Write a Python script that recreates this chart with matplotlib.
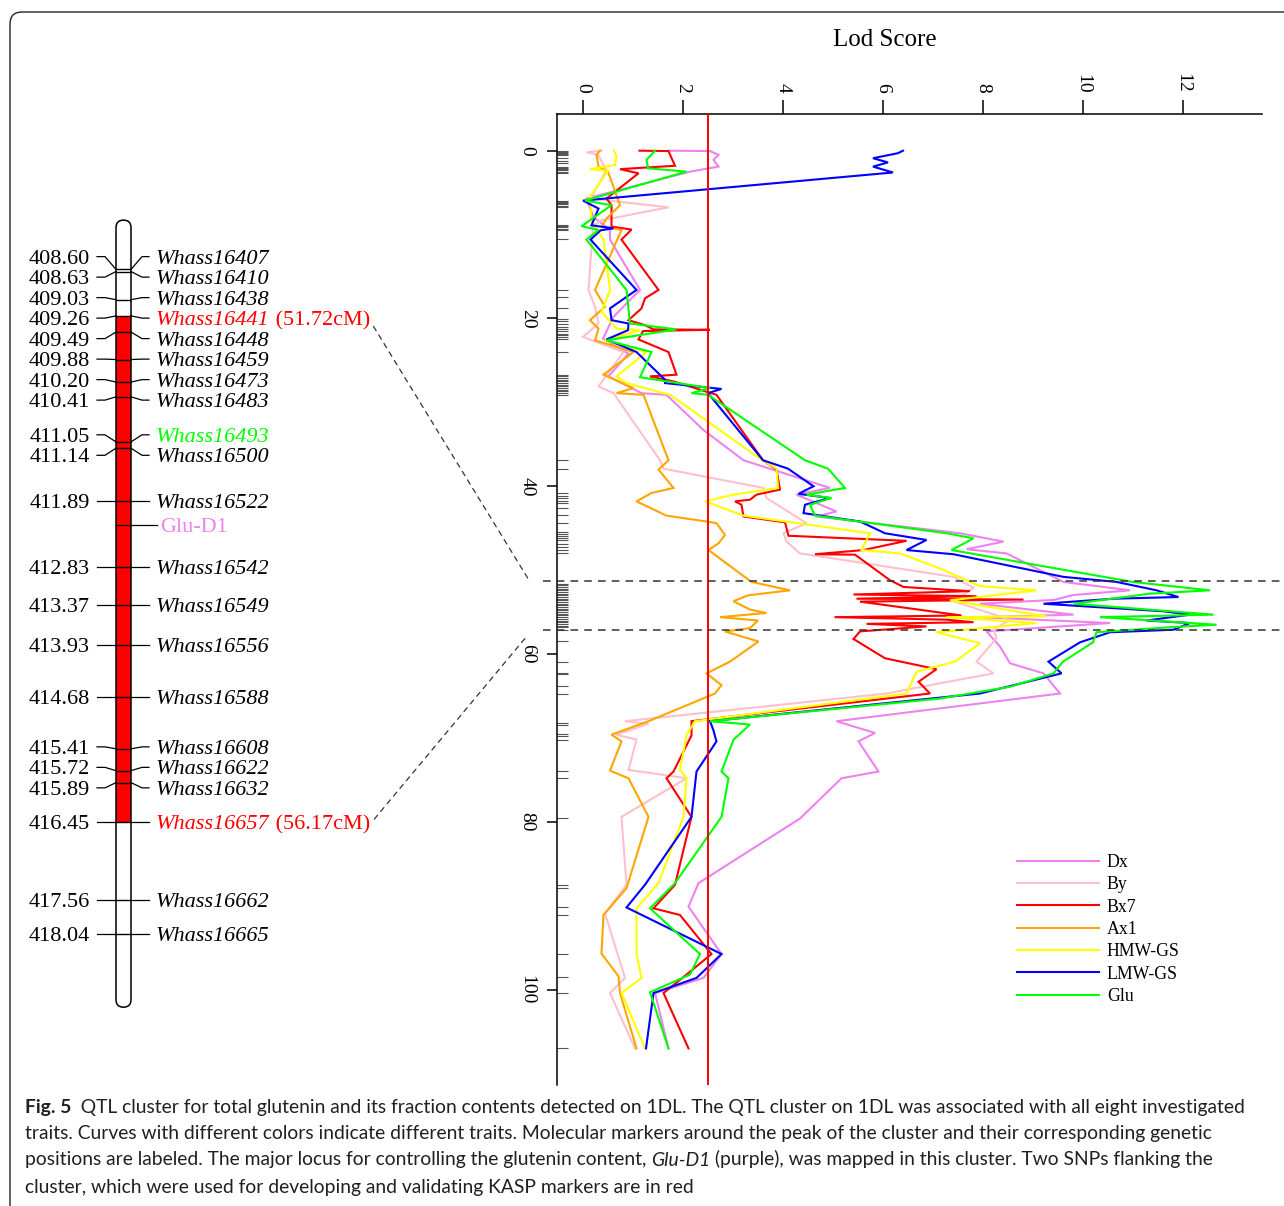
import matplotlib
matplotlib.use("Agg")
import matplotlib.pyplot as plt
from matplotlib.patches import FancyBboxPatch, Rectangle

plt.rcParams['font.family'] = ['Liberation Serif', 'DejaVu Serif']

# ---- LOD curves (position in cM, LOD score) ----
dx_cm = [0.0, 0.05, 0.5, 1.1, 1.9, 2.5, 5.7, 7.9, 9.45, 10.6, 16.6, 18.4, 19.8, 22.4, 24.2, 26.9, 28.9, 29.1,
         33.3, 36.9, 40.2, 41.0, 43.0, 43.6, 45.6, 46.6, 47.5, 48.0, 51.4, 52.4, 52.96, 53.55, 54.0, 55.3, 55.6,
         56.3, 57.3, 59.1, 61.1, 62.3, 64.7, 68.0, 69.4, 70.4, 74.0, 74.8, 79.6, 87.3, 90.1, 95.75, 98.6, 100.4, 107.0]
dx_lod = [1.71, 2.54, 2.71, 2.61, 2.71, 2.14, 0.07, 0.21, 0.54, 0.54, 1.14, 0.84, 0.61, 0.4, 0.91, 0.51, 1.17, 1.67,
          2.41, 3.21, 4.94, 4.27, 5.07, 4.67, 7.54, 8.41, 7.67, 8.47, 9.61, 10.94, 9.81, 9.41, 7.94, 9.81, 7.94,
          10.54, 8.07, 8.34, 8.54, 9.21, 9.54, 5.07, 5.84, 5.51, 5.91, 5.17, 4.34, 2.31, 2.11, 2.77, 2.41, 1.44, 1.71]

by_cm = [0.0, 0.2, 0.5, 2.3, 5.7, 6.75, 8.3, 9.0, 16.6, 18.6, 20.6, 22.2, 24.0, 28.1, 28.9, 36.9, 37.9, 40.2,
         41.4, 44.4, 45.6, 46.6, 48.0, 50.8, 52.1, 53.7, 55.9, 57.1, 58.1, 60.9, 62.3, 63.3, 64.7, 68.0, 68.3,
         69.6, 70.2, 73.8, 74.8, 79.4, 87.5, 90.9, 98.6, 100.4, 107.0]
by_lod = [0.37, 0.07, 0.3, 0.47, 0.15, 1.71, 0.37, 0.2, 0.11, 0.24, 0.31, 0.0, 0.81, 0.31, 0.61, 1.54, 1.61, 3.61,
          3.67, 4.47, 4.01, 4.07, 4.34, 7.41, 7.81, 7.41, 8.54, 8.21, 8.27, 7.87, 8.21, 7.3, 6.07, 0.84, 1.31,
          0.67, 1.07, 0.91, 2.07, 0.77, 0.87, 0.44, 0.84, 0.54, 1.04]

bx7_cm = [0.0, 0.05, 0.6, 1.8, 2.2, 2.7, 5.7, 6.5, 9.05, 9.4, 10.6, 16.6, 17.6, 18.8, 20.2, 20.8, 21.3, 21.35,
          21.5, 22.5, 24.0, 26.7, 26.9, 27.5, 29.1, 36.9, 38.0, 40.4, 41.0, 41.6, 41.8, 42.2, 43.6, 44.3, 45.9,
          46.5, 47.6, 48.1, 48.15, 51.2, 52.0, 52.5, 52.9, 53.1, 53.4, 53.5, 53.75, 54.5, 55.4, 55.6, 55.9, 56.2,
          56.4, 56.7, 57.3, 58.2, 60.5, 61.8, 63.3, 64.7, 68.0, 69.7, 74.0, 74.8, 79.4, 87.5, 90.3, 91.1, 95.75,
          98.2, 100.4, 107.0]
bx7_lod = [1.13, 1.71, 1.75, 1.84, 0.74, 1.11, 0.47, 0.57, 0.57, 0.97, 0.77, 1.51, 1.24, 1.17, 0.91, 1.24, 1.41, 2.54,
           1.2, 1.11, 1.71, 1.87, 1.34, 1.81, 2.67, 3.6, 3.87, 3.94, 3.47, 3.34, 3.04, 3.17, 3.21, 4.04, 4.11,
           6.47, 5.61, 4.64, 5.44, 6.14, 6.41, 7.74, 5.41, 7.87, 5.47, 8.81, 5.54, 6.47, 7.57, 5.03, 7.27, 7.81,
           5.67, 6.87, 5.54, 5.41, 6.04, 7.07, 6.71, 6.94, 2.17, 2.17, 1.81, 1.67, 2.17, 1.84, 1.41, 1.94, 2.57,
           2.07, 1.61, 2.11]

ax1_cm = [0.0, 0.5, 1.9, 2.5, 6.5, 8.1, 9.05, 9.45, 16.6, 18.6, 20.2, 21.2, 22.6, 24.0, 26.7, 28.3, 28.9, 29.1,
          36.9, 38.0, 40.2, 40.8, 41.8, 43.5, 44.2, 44.4, 45.8, 46.8, 47.6, 51.4, 52.4, 53.0, 53.7, 54.7, 55.1,
          55.6, 56.0, 56.9, 57.3, 58.5, 60.9, 62.3, 63.7, 64.7, 68.0, 69.6, 70.4, 73.9, 74.8, 79.4, 87.9, 91.1,
          95.7, 98.4, 100.4, 107.0]
ax1_lod = [0.34, 0.27, 0.31, 0.5, 0.74, 0.47, 0.37, 0.77, 0.24, 0.44, 0.14, 0.31, 0.24, 1.01, 0.41, 1.01, 0.67, 1.21,
           1.71, 1.51, 1.81, 1.37, 1.07, 1.67, 2.47, 2.67, 2.84, 2.71, 2.51, 3.37, 4.14, 3.3, 3.01, 3.34, 3.67,
           2.74, 3.5, 3.34, 2.84, 3.51, 2.94, 2.47, 2.77, 2.64, 1.31, 0.57, 0.77, 0.54, 0.91, 1.31, 0.87, 0.41,
           0.37, 0.71, 0.74, 1.07]

hmw_cm = [0.0, 0.7, 1.7, 2.2, 2.4, 5.5, 8.3, 10.6, 16.6, 19.2, 21.2, 21.4, 22.6, 24.0, 26.9, 27.7, 28.9, 29.1,
          36.7, 37.9, 40.2, 41.0, 41.8, 43.5, 45.6, 47.6, 48.0, 49.8, 51.9, 52.4, 53.6, 55.5, 55.6, 56.3, 57.4,
          58.7, 60.9, 62.1, 64.7, 68.0, 69.7, 73.8, 74.8, 79.4, 87.3, 90.3, 95.7, 98.6, 100.4, 107.0]
hmw_lod = [0.62, 0.67, 0.64, 0.14, 0.5, 0.14, 0.17, 0.41, 0.54, 0.37, 0.67, 1.14, 0.44, 1.27, 0.67, 0.87, 1.61, 1.74,
           3.54, 3.87, 3.9, 3.01, 2.44, 3.21, 5.74, 5.57, 6.34, 7.14, 7.94, 9.07, 7.34, 9.27, 7.27, 9.07, 7.07,
           7.94, 7.44, 6.67, 6.47, 2.24, 2.07, 1.94, 2.07, 2.01, 1.51, 1.07, 1.07, 1.17, 0.77, 1.24]

lmw_cm = [0.0, 0.3, 0.9, 1.4, 1.9, 2.6, 5.95, 6.9, 8.9, 9.25, 9.5, 10.6, 16.6, 18.8, 20.2, 20.6, 21.4, 22.5,
          24.0, 27.3, 27.7, 28.4, 28.9, 36.9, 37.9, 40.0, 40.9, 41.4, 42.2, 43.2, 44.2, 45.6, 46.4, 47.6, 48.1,
          50.8, 51.4, 52.4, 53.2, 53.4, 54.0, 54.9, 55.3, 56.0, 56.3, 57.1, 57.4, 58.6, 60.9, 62.3, 64.7, 68.0,
          69.1, 69.8, 70.4, 74.0, 79.4, 87.5, 90.2, 95.75, 98.6, 100.4, 107.0]
lmw_lod = [6.4, 6.3, 5.8, 6.1, 5.8, 6.2, 0.0, 0.31, 0.17, 0.61, 0.35, 0.15, 1.07, 0.54, 0.57, 0.91, 0.9, 0.47,
           1.07, 1.64, 1.64, 2.77, 2.5, 3.6, 4.1, 4.61, 4.31, 4.94, 4.44, 4.41, 5.54, 6.04, 6.87, 6.47, 7.41,
           9.61, 10.67, 11.47, 11.91, 10.61, 9.21, 11.61, 12.14, 11.27, 12.14, 11.81, 10.54, 9.94, 9.31, 9.57, 7.94, 2.54,
           2.61, 2.64, 2.67, 2.27, 2.17, 1.24, 0.87, 2.77, 2.27, 1.41, 1.26]

glu_cm = [0.0, 1.1, 2.1, 2.5, 5.95, 6.5, 9.0, 9.45, 10.6, 16.6, 20.6, 21.3, 22.6, 24.0, 27.0, 28.3, 28.9, 29.1,
          36.9, 37.9, 40.2, 41.0, 41.4, 42.2, 43.5, 45.6, 46.2, 47.6, 51.4, 52.4, 52.8, 54.0, 55.3, 55.6, 56.5,
          56.8, 57.4, 58.6, 60.9, 62.3, 63.9, 65.3, 68.0, 68.4, 70.2, 74.0, 74.8, 79.4, 87.3, 90.3, 95.75, 98.2,
          100.3, 107.0]
glu_lod = [1.44, 1.27, 1.3, 2.07, 0.04, 0.57, -0.03, 0.31, 0.07, 0.87, 0.94, 1.87, 0.47, 1.37, 1.14, 2.54, 2.17, 2.5,
           4.44, 4.9, 5.24, 4.47, 4.97, 4.54, 4.64, 7.27, 7.81, 7.37, 10.99, 12.54, 11.34, 9.81, 12.61, 10.34, 12.67,
           11.74, 10.27, 10.2, 9.6, 9.41, 8.54, 7.14, 2.54, 3.34, 3.01, 2.77, 2.91, 2.77, 1.84, 1.34, 2.34, 2.14,
           1.34, 1.71]

traits = ['Dx', 'By', 'Bx7', 'Ax1', 'HMW-GS', 'LMW-GS', 'Glu']
trait_colors = ['#EE82EE', '#FFC0CB', '#FF0000', '#FFA500', '#FFFF00', '#0000FF', '#00FF00']

# marker positions on the linkage map (cM)
rug_cm = [0.0, 0.15, 0.3, 0.45, 0.55, 0.9, 1.2, 1.5, 1.9, 2.05, 2.2, 2.35, 2.5, 2.7, 5.95, 6.1, 6.25, 6.4, 6.55,
          6.75, 8.85, 9.0, 9.15, 9.3, 9.45, 10.5, 16.6, 17.5, 18.8, 20.1, 20.3, 20.7, 21.0, 21.3, 21.5, 21.8, 22.0,
          22.2, 22.4, 24.0, 26.7, 26.9, 27.1, 27.3, 27.5, 27.7, 27.9, 28.1, 28.3, 28.5, 28.7, 28.9, 29.1, 36.9, 37.9,
          40.8, 41.2, 41.4, 41.7, 42.0, 42.6, 43.4, 44.4, 45.5, 45.7, 45.9, 46.2, 46.4, 46.9, 47.2, 47.6, 48.0,
          51.6, 51.8, 52.0, 52.2, 52.4, 52.6, 52.8, 53.0, 53.2, 53.4, 53.6, 53.8, 54.0, 54.2, 54.4, 54.6, 54.8,
          55.0, 55.2, 55.4, 55.6, 55.8, 56.0, 56.2, 56.4, 56.6, 56.8, 57.1, 58.5, 60.9, 62.2, 62.4, 63.8, 64.7,
          68.2, 68.4, 69.5, 69.8, 70.2, 73.9, 74.8, 79.5, 87.5, 87.9, 90.2, 91.1, 95.75, 98.5, 100.4, 107.0]

lod_threshold = 2.5
cluster_cm = [51.3, 57.1]

# ---- physical map of the 1DL region (Mb) ----
marker_mb = [408.60, 408.63, 409.03, 409.26, 409.49, 409.88, 410.20, 410.41, 411.05, 411.14, 411.89,
             412.83, 413.37, 413.93, 414.68, 415.41, 415.72, 415.89, 416.45, 417.56, 418.04]
marker_names = ['Whass16407', 'Whass16410', 'Whass16438', 'Whass16441', 'Whass16448', 'Whass16459',
                'Whass16473', 'Whass16483', 'Whass16493', 'Whass16500', 'Whass16522', 'Whass16542',
                'Whass16549', 'Whass16556', 'Whass16588', 'Whass16608', 'Whass16622', 'Whass16632',
                'Whass16657', 'Whass16662', 'Whass16665']
flank_cm = {'Whass16441': '(51.72cM)', 'Whass16657': '(56.17cM)'}
green_marker = 'Whass16493'
glu_d1_mb = 412.23
chrom_start, chrom_end = 407.90, 419.08
qtl_start, qtl_end = 409.26, 416.45


def spread_labels(pos, gap):
    # push overlapping labels apart, keeping each group centred on its markers
    groups = [[p] for p in sorted(pos)]
    while True:
        spans = []
        for g in groups:
            c = sum(g) / len(g)
            s = c - gap * (len(g) - 1) / 2
            spans.append((s, s + gap * (len(g) - 1)))
        merged = False
        for i in range(len(groups) - 1):
            if spans[i][1] + gap > spans[i + 1][0]:
                groups[i] = groups[i] + groups.pop(i + 1)
                merged = True
                break
        if not merged:
            break
    out = []
    for g, (s, e) in zip(groups, spans):
        out += [s + gap * k for k in range(len(g))]
    return out


W, H = 1284, 1206
fig = plt.figure(figsize=(W / 100, H / 100), dpi=100)


def fx(px):
    return px / W


def fy(py):
    return 1 - py / H


# outer rounded frame
frame = FancyBboxPatch((0.10, -0.5), 13.5, 12.44, boxstyle='round,pad=0,rounding_size=0.12',
                       transform=fig.dpi_scale_trans, fc='none', ec='#222222', lw=1.0)
fig.patches.append(frame)

# ---- LOD profile ----
ax = fig.add_axes([fx(556.5), fy(1085), fx(1262) - fx(556.5), fy(114) - fy(1085)])
series = [(dx_cm, dx_lod), (by_cm, by_lod), (bx7_cm, bx7_lod), (ax1_cm, ax1_lod),
          (hmw_cm, hmw_lod), (lmw_cm, lmw_lod), (glu_cm, glu_lod)]
for (cm, lod), name, col in zip(series, traits, trait_colors):
    ax.plot(lod, cm, color=col, lw=1.5, label=name, solid_joinstyle='miter')

ax.axvline(lod_threshold, color='#FF0000', lw=1.4, zorder=5)
ax.hlines(rug_cm, 0, 0.016, transform=ax.get_yaxis_transform(), colors='#555555', lw=0.8)
for c in cluster_cm:
    ax.plot([-0.8, 14.1], [c, c], ls=(0, (5, 4)), color='#333333', lw=1.1, clip_on=False, zorder=6)

ax.set_xlim(-0.53, 13.58)
ax.set_ylim(111.36, -4.37)
ax.set_xticks([0, 2, 4, 6, 8, 10, 12])
ax.set_yticks([0, 20, 40, 60, 80, 100])
ax.xaxis.tick_top()
ax.tick_params(axis='x', length=10, width=1.1, pad=5, labelsize=14, labelrotation=-90)
ax.tick_params(axis='y', length=7, width=1.1, pad=8, labelsize=14, labelrotation=-90)
for t in ax.get_yticklabels():
    t.set_va('center')
for s in ['right', 'bottom']:
    ax.spines[s].set_visible(False)
for s in ['top', 'left']:
    ax.spines[s].set_linewidth(1.1)
fig.text(fx(885), fy(40), 'Lod Score', ha='center', va='center', fontsize=18)

fig.legend(loc='upper left', bbox_to_anchor=(fx(1017), fy(854)), frameon=False, fontsize=12.8,
           handlelength=4.6, handletextpad=0.45, labelspacing=0.30, borderpad=0, borderaxespad=0)

# ---- chromosome ----
axc = fig.add_axes([0, fy(1020), fx(540), fy(200) - fy(1020)])
axc.set_xlim(0, 540)
axc.set_ylim(419.262, 407.614)
axc.axis('off')
asp = (419.262 - 407.614) / 820.0

bar_x, bar_w = 116, 15
axc.add_patch(FancyBboxPatch((bar_x, chrom_start), bar_w, chrom_end - chrom_start,
                             boxstyle='round,pad=0,rounding_size=7.5', mutation_aspect=asp,
                             fc='white', ec='none', zorder=1))
axc.add_patch(Rectangle((bar_x, qtl_start), bar_w, qtl_end - qtl_start, fc='#FF0000', ec='none', zorder=2))
axc.hlines(marker_mb, bar_x, bar_x + bar_w, colors='black', lw=1.0, zorder=3)
axc.add_patch(FancyBboxPatch((bar_x, chrom_start), bar_w, chrom_end - chrom_start,
                             boxstyle='round,pad=0,rounding_size=7.5', mutation_aspect=asp,
                             fc='none', ec='black', lw=1.1, zorder=4))

label_y = spread_labels(marker_mb, 20.5 * asp)
flank_texts = {}
for mb, ly, num, name in zip(marker_mb, label_y, marker_mb, marker_names):
    axc.plot([97, 105, bar_x], [ly, ly, mb], color='black', lw=0.9)
    axc.plot([bar_x + bar_w, 142, 149], [mb, ly, ly], color='black', lw=0.9)
    axc.text(90, ly, f'{num:.2f}', ha='right', va='center_baseline', fontsize=16)
    col = 'black'
    if name in flank_cm:
        col = '#FF0000'
    elif name == green_marker:
        col = '#00FF00'
    t = axc.text(156, ly, name, ha='left', va='center_baseline', fontsize=16, style='italic', color=col)
    if name in flank_cm:
        t2 = axc.annotate(' ' + flank_cm[name], xy=(1, 0), xycoords=t, ha='left', va='bottom',
                          fontsize=16, color='#FF0000')
        flank_texts[name] = t2

axc.plot([bar_x, 157], [glu_d1_mb, glu_d1_mb], color='black', lw=0.9)
axc.text(160, glu_d1_mb, 'Glu-D1', ha='left', va='center_baseline', fontsize=16, color='#EE82EE')

# dashed guides from flanking markers to the cluster bounds
targets = [(-1.1, cluster_cm[0] - 0.3), (-1.1, cluster_cm[1] + 0.6)]
for (name, t2), xy in zip(flank_texts.items(), targets):
    axc.annotate('', xy=xy, xycoords=ax.transData, xytext=(1, 0.5), textcoords=t2,
                 arrowprops=dict(arrowstyle='-', color='#333333', lw=0.9, linestyle=(0, (4, 4)),
                                 shrinkA=5, shrinkB=0))

# ---- caption ----
cap_font = ['Lato', 'DejaVu Sans']
cap_col = '#231F20'
cap_size = 13.85
line_y = [1107, 1134, 1160, 1187]
lines = [
    [('Fig. 5', 'bold', 'normal'),
     ('  QTL cluster for total glutenin and its fraction contents detected on 1DL. The QTL cluster on 1DL '
      'was associated with all eight investigated', 'normal', 'normal')],
    [('traits. Curves with different colors indicate different traits. Molecular markers around the peak of '
      'the cluster and their corresponding genetic', 'normal', 'normal')],
    [('positions are labeled. The major locus for controlling the glutenin content, ', 'normal', 'normal'),
     ('Glu-D1', 'normal', 'italic'),
     (' (purple), was mapped in this cluster. Two SNPs flanking the', 'normal', 'normal')],
    [('cluster, which were used for developing and validating KASP markers are in red', 'normal', 'normal')],
]
for y, pieces in zip(line_y, lines):
    last = None
    for txt, wt, st in pieces:
        if last is None:
            last = fig.text(fx(25), fy(y), txt, ha='left', va='center', fontsize=cap_size,
                            family=cap_font, weight=wt, style=st, color=cap_col)
        else:
            last = axc.annotate(txt, xy=(1, 0), xycoords=last, ha='left', va='bottom', fontsize=cap_size,
                                family=cap_font, weight=wt, style=st, color=cap_col, annotation_clip=False)

fig.savefig('out.png', dpi=100)
